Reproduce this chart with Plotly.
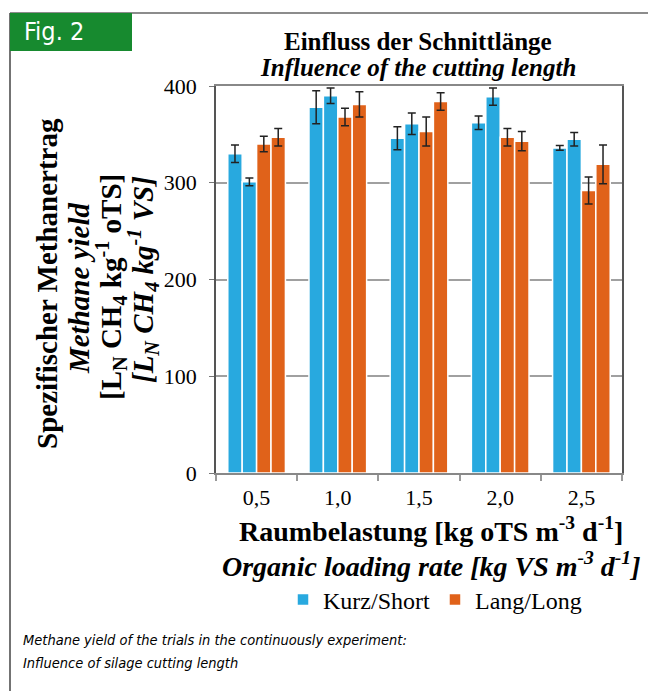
import plotly.graph_objects as go

# ---------------- data ----------------
categories = ["0,5", "1,0", "1,5", "2,0", "2,5"]

kurz_a = [330, 378, 346, 362, 336]
kurz_a_err = [9, 17, 12, 7, 2.5]
kurz_b = [301, 390, 361, 389, 345]
kurz_b_err = [4, 8, 11, 9, 7]

lang_a = [340, 368, 353, 347, 292]
lang_a_err = [8, 9, 15, 9, 14]
lang_b = [347, 381, 384, 343, 319]
lang_b_err = [9, 13, 9, 10, 20]

y_ticks = [0, 100, 200, 300, 400]

# ---------------- layout geometry ----------------
W, H = 648, 691
ML, MR, MT, MB = 216, 26, 86, 218
PW = W - ML - MR
PH = H - MT - MB


def px(x):
    return (x - ML) / PW


def py(y):
    return (H - MB - y) / PH


BLUE = "#28A9DF"
ORANGE = "#E0621A"
SERIF = "Liberation Serif, Times New Roman, serif"
NARROW = "DejaVu Sans Condensed, Liberation Sans Narrow, Liberation Sans, sans-serif"

fig = go.Figure()

series = [
    (kurz_a, kurz_a_err, BLUE, "Kurz/Short", True, "k"),
    (kurz_b, kurz_b_err, BLUE, "Kurz/Short", False, "k"),
    (lang_a, lang_a_err, ORANGE, "Lang/Long", True, "l"),
    (lang_b, lang_b_err, ORANGE, "Lang/Long", False, "l"),
]
for vals, errs, col, name, show, grp in series:
    fig.add_trace(go.Bar(
        x=categories, y=vals, name=name, showlegend=show, legendgroup=grp,
        marker=dict(color=col, line=dict(color="white", width=1.5)),
        error_y=dict(type="data", array=errs, visible=True,
                     color="#222222", thickness=1.5, width=4),
    ))

fig.update_layout(
    width=W, height=H,
    margin=dict(l=ML, r=MR, t=MT, b=MB, autoexpand=False),
    paper_bgcolor="white", plot_bgcolor="white",
    barmode="group", bargap=0.29, bargroupgap=0.0,
    font=dict(family=SERIF, color="black"),
    showlegend=True,
    legend=dict(orientation="h", x=px(435), xanchor="center",
                y=py(600), yanchor="middle",
                font=dict(family=SERIF, size=24, color="black"),
                bgcolor="rgba(0,0,0,0)", traceorder="normal"),
    xaxis=dict(
        type="category", showgrid=False,
        showline=True, linecolor="#888888", linewidth=1.5,
        mirror=True,
        ticks="outside", tickson="boundaries", ticklen=6,
        tickcolor="#999999", tickwidth=1.5,
        tickfont=dict(family=SERIF, size=22, color="black"),
        ticklabelstandoff=4,
    ),
    yaxis=dict(
        range=[0, 400], tickvals=y_ticks,
        showgrid=True, gridcolor="#A0A0A0", gridwidth=1.5,
        showline=True, linecolor="#555555", linewidth=1.5, mirror=True,
        ticks="outside", ticklen=5, tickcolor="#777777", tickwidth=1,
        tickfont=dict(family=SERIF, size=22, color="black"),
        ticklabelstandoff=8, zeroline=False,
    ),
)

shapes = [
    # frame lines
    dict(type="line", xref="paper", yref="paper",
         x0=px(10), x1=px(648), y0=py(13), y1=py(13),
         line=dict(color="#666666", width=1.5)),
    dict(type="line", xref="paper", yref="paper",
         x0=px(10), x1=px(10), y0=py(13), y1=py(691),
         line=dict(color="#444444", width=1.5)),
    # green label box
    dict(type="rect", xref="paper", yref="paper",
         x0=px(10), x1=px(132), y0=py(13), y1=py(51),
         fillcolor="#178A2F", line=dict(width=0)),
]
fig.update_layout(shapes=shapes)

ann = []
ann.append(dict(text="Fig. 2", x=px(22), y=py(32), xanchor="left", yanchor="middle",
                font=dict(family=NARROW, size=25, color="white")))
ann.append(dict(text="<b>Einfluss der Schnittlänge</b>", x=px(418), y=py(41),
                xanchor="center", yanchor="middle",
                font=dict(family=SERIF, size=25, color="black")))
ann.append(dict(text="<b><i>Influence of the cutting length</i></b>", x=px(418), y=py(68),
                xanchor="center", yanchor="middle",
                font=dict(family=SERIF, size=25, color="black")))
# y-axis title lines
ylines = [
    ("<b>Spezifischer Methanertrag</b>", 47, 284),
    ("<b><i>Methane yield</i></b>", 79, 289),
    ("<b>[L<sub>N</sub> CH<sub>4</sub> kg<sup>-1</sup> oTS]</b>", 111, 287),
    ("<b><i>[L<sub>N</sub> CH<sub>4</sub> kg<sup>-1</sup> VS]</i></b>", 143, 280),
]
for t, xx, yy in ylines:
    ann.append(dict(text=t, x=px(xx), y=py(yy), xanchor="center", yanchor="middle",
                    textangle=-90, font=dict(family=SERIF, size=29, color="black")))
# x-axis title lines
ann.append(dict(text="<b>Raumbelastung [kg oTS m<sup>-3</sup> d<sup>-1</sup>]</b>",
                x=px(431), y=py(529), xanchor="center", yanchor="middle",
                font=dict(family=SERIF, size=28, color="black")))
ann.append(dict(text="<b><i>Organic loading rate [kg VS m<sup>-3</sup> d<sup>-1</sup>]</i></b>",
                x=px(431), y=py(564), xanchor="center", yanchor="middle",
                font=dict(family=SERIF, size=28, color="black")))
# caption
ann.append(dict(text="<i>Methane yield of the trials in the continuously experiment:</i>",
                x=px(21), y=py(640), xanchor="left", yanchor="middle",
                font=dict(family=NARROW, size=14.5, color="black")))
ann.append(dict(text="<i>Influence of silage cutting length</i>",
                x=px(21), y=py(663), xanchor="left", yanchor="middle",
                font=dict(family=NARROW, size=14.5, color="black")))

for a in ann:
    a.update(xref="paper", yref="paper", showarrow=False)
fig.update_layout(annotations=ann)

fig.write_html(
    "out.html",
    config={"displayModeBar": False},
    post_script="document.body.style.margin='0px';document.body.style.overflow='hidden';",
)
